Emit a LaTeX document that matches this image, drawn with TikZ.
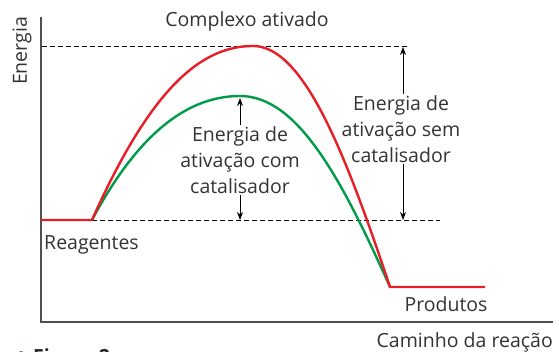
\documentclass[tikz,border=0pt]{standalone}
\usepackage{fontspec}
\setmainfont{Open Sans}
\usepackage{xcolor}
\definecolor{semcat}{RGB}{232,30,38}
\definecolor{comcat}{RGB}{0,155,72}
\definecolor{eixocor}{RGB}{80,80,80}
\definecolor{roxo}{RGB}{140,80,160}
\usetikzlibrary{arrows.meta,positioning,calc}
\tikzset{
  rotulo/.style={font=\fontsize{19.5}{26}\selectfont,text=black!80,inner sep=1pt,align=center},
  curva/.style={line width=2.4pt,line join=round},
  nivel/.style={dash pattern=on 4.5pt off 3.5pt,line width=0.9pt},
  seta/.style={-{Stealth[length=8pt,width=6pt]},line width=0.9pt},
  eixo/.style={line width=1.4pt,draw=eixocor},
}

\begin{document}
\begin{tikzpicture}[x=1pt,y=-1pt]
\useasboundingbox (0,0) rectangle (559,352);
\clip (0,0) rectangle (559,352);
% eixos
\coordinate (topo) at (41,17);
\coordinate (orig) at (41,322);
\coordinate (dir) at (553,322);
\draw[eixo] (topo) -- (orig) -- (dir);
% pontos das curvas
\coordinate (r0) at (41,220);
\coordinate (inicio) at (92,220);
\coordinate (picoR) at (253,46);
\coordinate (picoV) at (240,96);
\coordinate (fim) at (390,287);
\coordinate (p1) at (485,287);
% niveis
\draw[nivel] (42,46) -- (410,46);
\draw[nivel] (inicio) -- (440,220);
% curvas
\draw[curva,comcat] (inicio) .. controls (140,130) and (190,96) .. (picoV)
  .. controls (298,96) and (342,180) .. (fim);
\draw[curva,semcat] (r0) -- (inicio) .. controls (150,90) and (200,46) .. (picoR)
  .. controls (304,46) and (346,155) .. (fim) -- (p1);
% textos
\node[rotulo] (complexo) at (247,21) {Complexo ativado};
\node[rotulo,rotate=90] (energia) at (22,51) {Energia};
\node[rotulo] (ecom) at (240,160) {Energia de\\ativação com\\catalisador};
\node[rotulo] (esem) at (401,129) {Energia de\\ativação sem\\catalisador};
\node[rotulo,anchor=west] (reag) at (43,245) {Reagentes};
\node[rotulo] (prod) at (446,304) {Produtos};
\node[rotulo,anchor=east] (caminho) at (554,342) {Caminho da reação};
% setas
\coordinate (tv) at (240,98);
\coordinate (bv) at (240,220);
\coordinate (tr) at (403,47);
\coordinate (br) at (403,220);
\draw[seta] (ecom.north) -- (tv);
\draw[seta] (ecom.south) -- (bv);
\draw[seta] (esem.north -| tr) -- (tr);
\draw[seta] (esem.south -| br) -- (br);
% legenda
\node[circle,fill=roxo,inner sep=0pt,minimum size=8pt] (marca) at (21,355) {};
\node[font=\bfseries\fontsize{19.5}{20}\selectfont,text=black!85,anchor=base west,inner sep=0pt] (fig) at (33,363) {Figura 2};
\end{tikzpicture}
\end{document}
